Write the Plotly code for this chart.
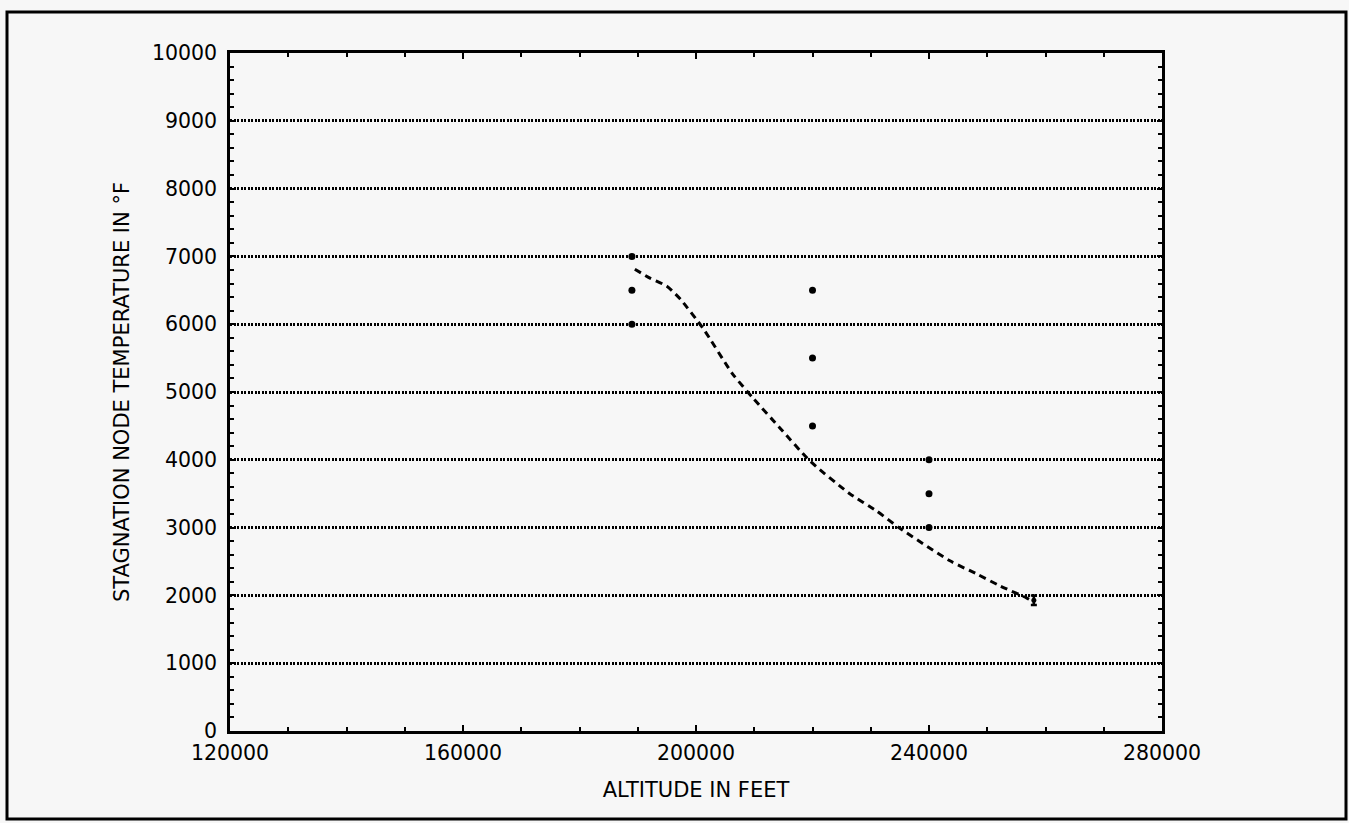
import plotly.graph_objects as go

# Measured data points (altitude ft, stagnation node temperature °F)
pt_alt = [189000, 189000, 189000, 220000, 220000, 220000, 240000, 240000, 240000]
pt_temp = [7000, 6500, 6000, 6500, 5500, 4500, 4000, 3500, 3000]

end_alt = [258000]
end_temp = [1930]
end_err = [70]

# Fitted curve (dashed)
fit_alt = [189500, 192100, 195000, 197300, 201200, 206300, 209800, 214400, 219600,
           226400, 231000, 235000, 243600, 248200, 252200, 256800, 258000]
fit_temp = [6810, 6680, 6560, 6370, 5940, 5265, 4910, 4470, 3980,
            3500, 3245, 2990, 2510, 2316, 2140, 1960, 1900]

x_ticks = [120000, 160000, 200000, 240000, 280000]
y_ticks = [0, 1000, 2000, 3000, 4000, 5000, 6000, 7000, 8000, 9000, 10000]

BG = "#f7f7f7"
FONT = "DejaVu Sans"

fig = go.Figure()
fig.add_trace(go.Scatter(x=fit_alt, y=fit_temp, mode="lines",
                         line=dict(color="black", width=3, dash="7px,5px", shape="spline", smoothing=0.6),
                         hoverinfo="skip", showlegend=False))
fig.add_trace(go.Scatter(x=pt_alt, y=pt_temp, mode="markers",
                         marker=dict(color="black", size=7), showlegend=False))
fig.add_trace(go.Scatter(x=end_alt, y=end_temp, mode="markers",
                         marker=dict(color="black", size=5),
                         error_y=dict(type="data", array=end_err, color="black", thickness=2.5, width=3),
                         showlegend=False))

L, R, T, B = 230, 1162, 53, 731
W, H = 1349, 823
pw, ph = R - L, B - T

def px(x):
    return (x - L) / pw

def py(y):
    return (B - y) / ph

fig.add_shape(type="rect", xref="paper", yref="paper",
              x0=px(7), x1=px(1346), y0=py(819), y1=py(12),
              line=dict(color="black", width=3), layer="below")

fig.update_layout(
    width=W, height=H,
    margin=dict(l=L, r=W - R, t=T, b=H - B, autoexpand=False),
    paper_bgcolor=BG, plot_bgcolor=BG,
    font=dict(family=FONT, size=20, color="black"),
    xaxis=dict(
        range=[120000, 280000], tickvals=x_ticks, ticktext=[str(v) for v in x_ticks],
        showgrid=False, zeroline=False,
        showline=True, linecolor="black", linewidth=2.5, mirror="ticks",
        ticks="inside", ticklen=6, tickwidth=1.5, tickcolor="black",
        minor=dict(dtick=10000, ticks="inside", ticklen=4, tickwidth=1.5, tickcolor="black", showgrid=False),
        ticklabelstandoff=2,
        tickfont=dict(family=FONT, size=20.5),
        title=dict(text="ALTITUDE IN FEET", font=dict(family=FONT, size=21), standoff=18),
        automargin=False,
    ),
    yaxis=dict(
        range=[0, 10000], tickvals=y_ticks, ticktext=[str(v) for v in y_ticks],
        showgrid=True, gridcolor="black", gridwidth=2.5, griddash="2px,1.5px",
        zeroline=False,
        showline=True, linecolor="black", linewidth=2.5, mirror="ticks",
        ticks="inside", ticklen=5, tickwidth=1.5, tickcolor="black",
        minor=dict(dtick=200, ticks="inside", ticklen=4, tickwidth=1.5, tickcolor="black", showgrid=False),
        ticklabelstandoff=6,
        tickfont=dict(family=FONT, size=20.5),
        title=dict(text="STAGNATION NODE TEMPERATURE IN °F", font=dict(family=FONT, size=21), standoff=17),
        automargin=False,
    ),
)

fig.write_html("out.html", config={"displayModeBar": False},
               post_script="document.body.style.margin='0';document.body.style.overflow='hidden';")
